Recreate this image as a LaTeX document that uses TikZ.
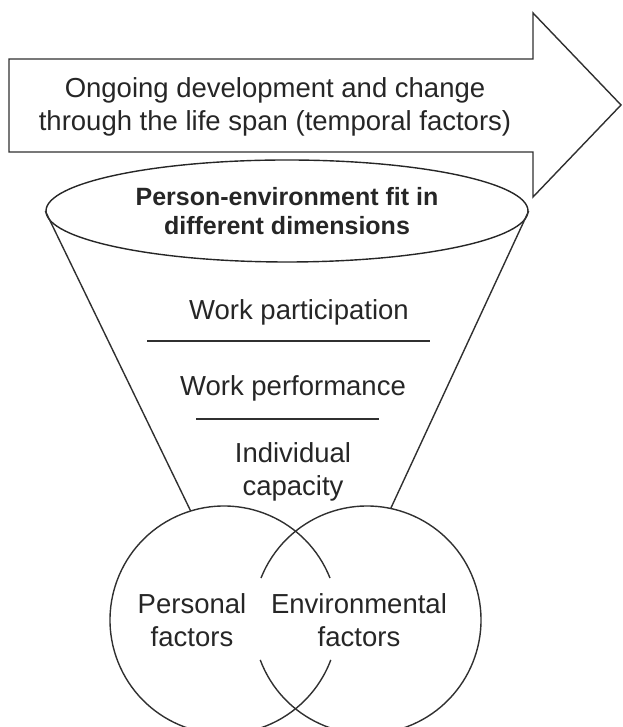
\documentclass[tikz,border=0pt]{standalone}
\usepackage{fontspec}
\setmainfont{Liberation Sans}
\usetikzlibrary{shapes.geometric}
\definecolor{ink}{HTML}{262626}
\definecolor{rule}{HTML}{303030}

\tikzset{
  plaintxt/.style={font=\fontsize{27.5}{32.5}\selectfont,ink,align=center,inner sep=0pt},
  boldtxt/.style={font=\fontsize{25}{28.5}\selectfont\bfseries,ink,align=center,inner sep=0pt},
  outline/.style={draw=rule,line width=1.4pt},
}

\begin{document}
\begin{tikzpicture}[x=1pt,y=1pt]
  \useasboundingbox (0,0) rectangle (622,727);
  \clip (0,0) rectangle (622,727);

  % Temporal arrow
  \draw[outline] (9,575) -- (9,668) -- (533,668) -- (533,714) -- (621,622)
    -- (533,530) -- (533,575) -- cycle;
  \node[plaintxt] (time) at (275,620) {Ongoing development and change\\through the life span (temporal factors)};

  % Funnel top
  \node[outline,ellipse,boldtxt,minimum width=482,minimum height=102] (fit) at (287,516)
    {Person-environment fit in\\different dimensions};

  % Venn circles
  \coordinate (pc) at (224,107);
  \coordinate (ec) at (367,107);
  \path (pc) ++(107:114) coordinate (pl);
  \path (ec) ++(78:114) coordinate (el);
  \draw[outline] (pc) ++(21.6:114) arc[start angle=21.6,end angle=339.5,radius=114];
  \draw[outline] (ec) ++(200.5:114) arc[start angle=200.5,end angle=518.4,radius=114];

  % Funnel sides
  \draw[outline] (fit.west) -- (pl);
  \draw[outline] (fit.east) -- (el);

  % Levels
  \node[plaintxt] (part) at (299,415) {Work participation};
  \draw[outline] (147,386) -- (430,386);
  \node[plaintxt] (perf) at (293,339) {Work performance};
  \draw[outline] (196,308) -- (379,308);
  \node[plaintxt] (cap) at (293,255) {Individual\\capacity};

  \node[plaintxt] (pers) at (192,107) {Personal\\factors};
  \node[plaintxt] (env) at (359,107) {Environmental\\factors};
\end{tikzpicture}
\end{document}
